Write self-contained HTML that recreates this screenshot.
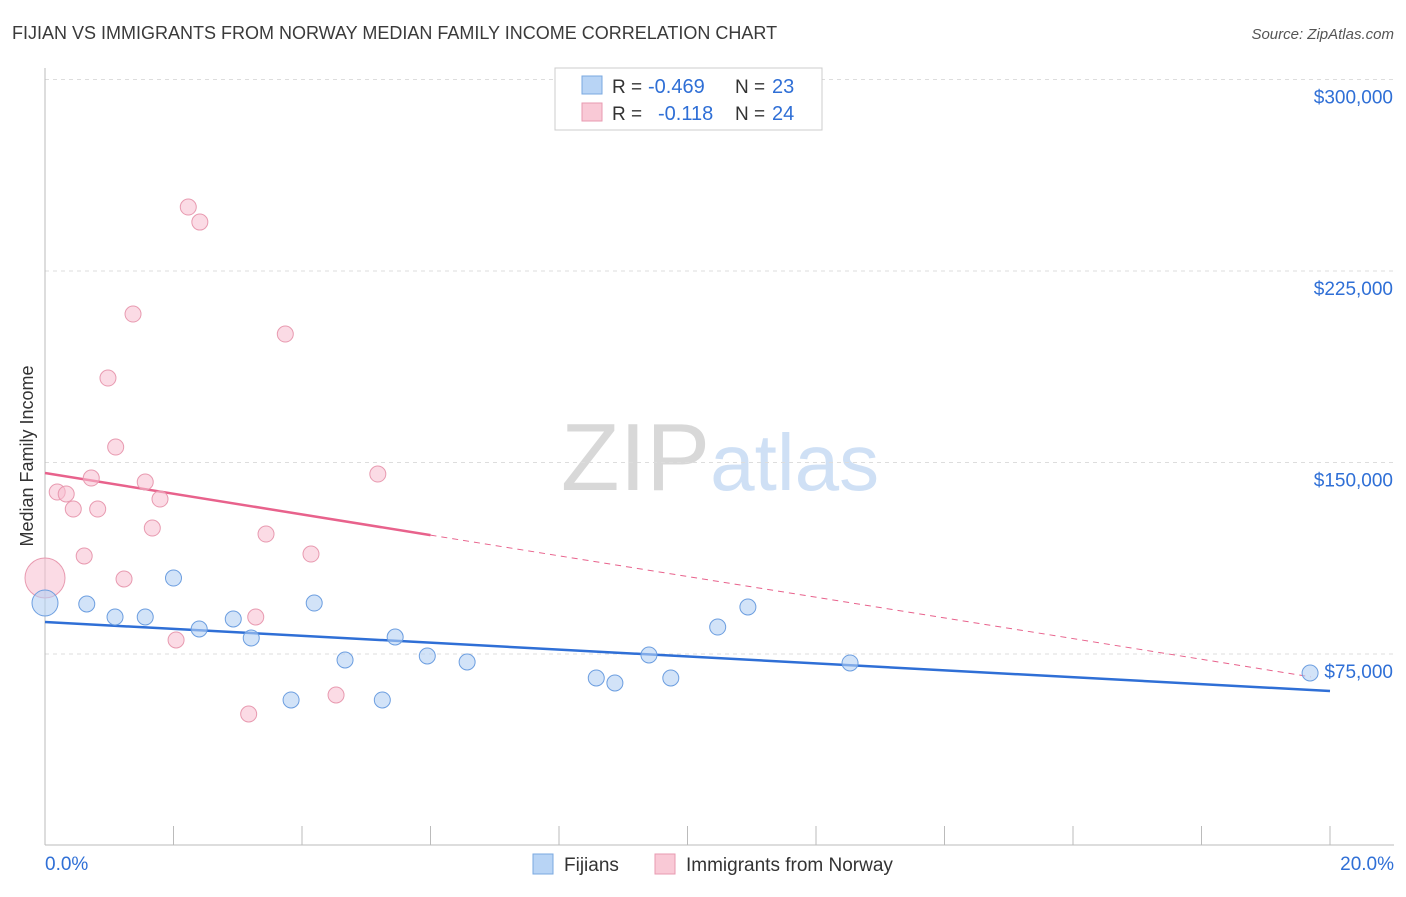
<!DOCTYPE html>
<html><head><meta charset="utf-8"><style>
body{margin:0;background:#fff;font-family:"Liberation Sans",sans-serif;}
svg text{font-family:"Liberation Sans",sans-serif;}
</style></head><body>
<svg id="chart" width="1406" height="892" viewBox="0 0 1406 892" xmlns="http://www.w3.org/2000/svg">
<text x="12" y="39" font-size="18" fill="#3a3a3a">FIJIAN VS IMMIGRANTS FROM NORWAY MEDIAN FAMILY INCOME CORRELATION CHART</text>
<text x="1394" y="39" font-size="15" fill="#555" text-anchor="end" font-style="italic">Source: ZipAtlas.com</text>
<text x="720" y="490" font-size="96" text-anchor="middle" fill="#ddd" font-family="Liberation Serif"><tspan fill="#d8d8d8">ZIP</tspan><tspan fill="#cfe0f5" font-family="Liberation Sans" font-size="80">atlas</tspan></text>
<g id="grid"></g>
<g id="axes"></g>
<g id="lines"></g>
<g id="points"></g>
<text transform="translate(33,456) rotate(-90)" font-size="18" fill="#333" text-anchor="middle">Median Family Income</text>
<g>
<rect x="555" y="68" width="267" height="62" fill="#fff" stroke="#ccc"/>
<rect x="582" y="76" width="20" height="18" fill="#b8d4f5" stroke="#7aa8e0"/>
<rect x="582" y="103" width="20" height="18" fill="#f9c9d6" stroke="#e89ab0"/>
<text x="612" y="93" font-size="19" fill="#333">R =</text>
<text x="648" y="93" font-size="20" fill="#2f6fd6">-0.469</text>
<text x="735" y="93" font-size="19" fill="#333">N =</text>
<text x="772" y="93" font-size="20" fill="#2f6fd6">23</text>
<text x="612" y="120" font-size="19" fill="#333">R =</text>
<text x="658" y="120" font-size="20" fill="#2f6fd6">-0.118</text>
<text x="735" y="120" font-size="19" fill="#333">N =</text>
<text x="772" y="120" font-size="20" fill="#2f6fd6">24</text>
</g>
<g>
<rect x="533" y="854" width="20" height="20" fill="#b8d4f5" stroke="#7aa8e0"/>
<text x="564" y="871" font-size="19" fill="#333">Fijians</text>
<rect x="655" y="854" width="20" height="20" fill="#f9c9d6" stroke="#e89ab0"/>
<text x="686" y="871" font-size="19" fill="#333">Immigrants from Norway</text>
</g>
</svg>
<script>
const xTicks=[0,20];
const yTicks=[75000,150000,225000,300000];
const yTickLabels=["$75,000","$150,000","$225,000","$300,000"];
const fijiX=[0,0.65,1.09,1.56,2.0,2.40,2.93,3.21,3.83,4.19,4.67,5.25,5.45,5.95,6.57,8.58,8.87,9.40,9.74,10.47,10.94,12.53,19.69];
const fijiY=[94970,94580,89490,89490,104760,84790,88710,81270,56990,94970,72650,56990,81660,74220,71870,65600,63640,74610,65600,85570,93410,71480,67560];
const norX=[0,0.19,0.33,0.44,0.61,0.72,0.82,0.98,1.10,1.23,1.37,1.56,1.67,1.79,2.04,2.23,2.41,3.17,3.28,3.44,3.74,4.14,4.53,5.18];
const norY=[104760,138440,137660,131780,113380,143920,131780,183080,156060,104370,208140,142360,124340,135700,80480,250050,244170,51500,89490,121990,200310,114160,58940,145490];
const fijiTrend=[87530,60510];
const norTrend=[145880,64820];
const NS="http://www.w3.org/2000/svg";
const X=v=>45+v*1285/20;
const Y=v=>654-(v-75000)*191.5/75000;
function mk(tag,attrs,parent){const e=document.createElementNS(NS,tag);for(const k in attrs)e.setAttribute(k,attrs[k]);document.getElementById(parent).appendChild(e);return e;}
yTicks.forEach((t,i)=>{
 const l=mk('line',{x1:45,x2:1394,y1:Y(t),y2:Y(t),stroke:'#ddd','stroke-dasharray':'4,4'},'grid');
 
 
 const tx=mk('text',{x:1393,y:Y(t)+24,'font-size':19,fill:'#2f6fd6','text-anchor':'end'},'axes');
 tx.textContent=yTickLabels[i];
 
 
});
mk('line',{x1:45,x2:45,y1:68,y2:845,stroke:'#bbb'},'axes');
mk('line',{x1:45,x2:1394,y1:845,y2:845,stroke:'#bbb'},'axes');
for(let i=0;i<=10;i++){const x=X(i*2);mk('line',{x1:x,x2:x,y1:826,y2:845,stroke:'#bbb'},'axes');}
xTicks.forEach((t,i)=>{
 const tx=mk('text',{x:i==0?45:1394,y:870,'font-size':19,fill:'#2f6fd6','text-anchor':i==0?'start':'end'},'axes');
 tx.textContent=t.toFixed(1)+'%';
 
 
});
let l=mk('line',{x1:X(0),y1:Y(fijiTrend[0]),x2:X(20),y2:Y(fijiTrend[1]),stroke:'#2f6fd6','stroke-width':2.5},'lines');


const nAt=x=>norTrend[0]+(norTrend[1]-norTrend[0])*x/20;
l=mk('line',{x1:X(0),y1:Y(nAt(0)),x2:X(6),y2:Y(nAt(6)),stroke:'#e8628c','stroke-width':2.5},'lines');


l=mk('line',{x1:X(6),y1:Y(nAt(6)),x2:X(19.7),y2:Y(nAt(19.7)),stroke:'#e8628c','stroke-width':1,'stroke-dasharray':'6,5'},'lines');


norX.forEach((x,i)=>{
 const c=mk('circle',{cx:X(x),cy:Y(norY[i]),r:i==0?20:8,fill:'rgba(248,190,208,0.55)',stroke:'#e89ab0','stroke-width':1},'points');
 
 
});
fijiX.forEach((x,i)=>{
 const c=mk('circle',{cx:X(x),cy:Y(fijiY[i]),r:i==0?13:8,fill:'rgba(180,208,243,0.6)',stroke:'#6c9ee0','stroke-width':1},'points');
 
 
});
</script>
</body></html>
